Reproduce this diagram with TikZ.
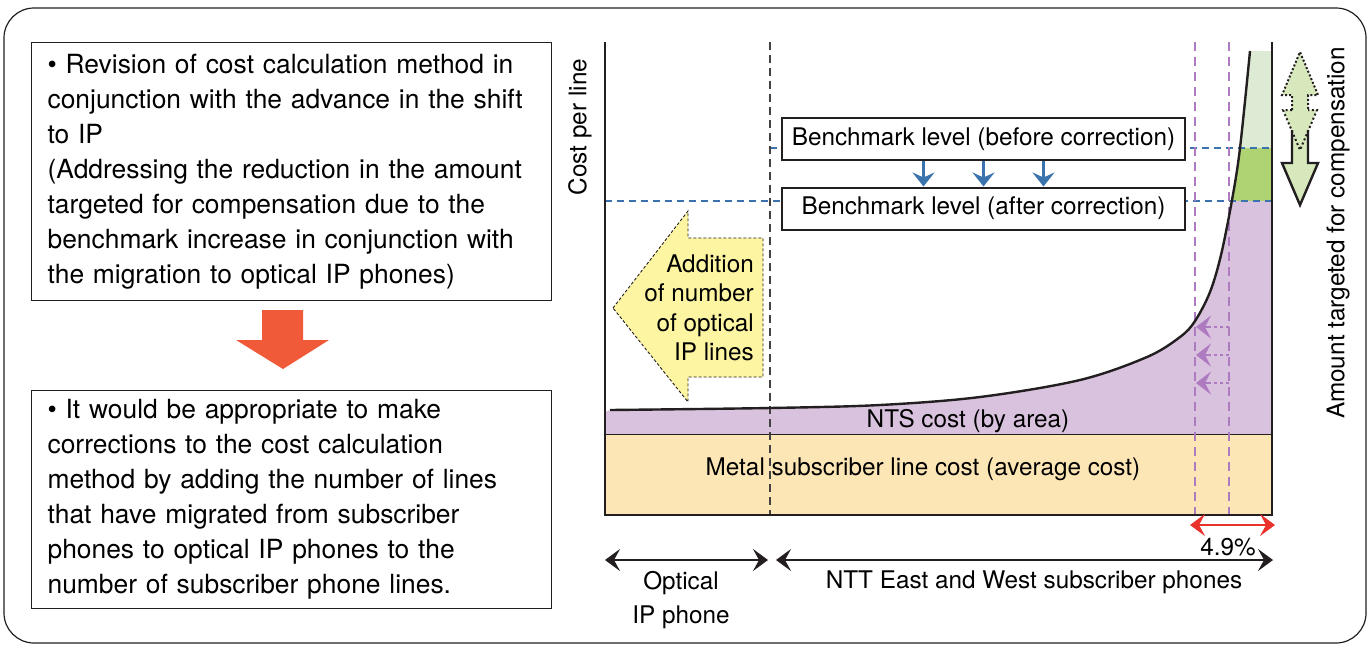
\documentclass[tikz,border=0pt]{standalone}
\usepackage{fontspec}
\setmainfont{TeX Gyre Heros}
\usetikzlibrary{arrows.meta}

\definecolor{ink}{HTML}{231F20}
\definecolor{metalfill}{HTML}{FDE6B6}
\definecolor{ntsfill}{HTML}{D8C2DE}
\definecolor{gapgreen}{HTML}{AFD373}
\definecolor{palegreen}{HTML}{DDEBD4}
\definecolor{arrowgreen}{HTML}{D7E8BC}
\definecolor{lineyellow}{HTML}{FDF5A2}
\definecolor{shiftorange}{HTML}{F15A38}
\definecolor{benchblue}{HTML}{3A73AE}
\definecolor{sharepurple}{HTML}{AE7BC0}
\definecolor{sharered}{HTML}{E8322B}

\tikzset{
  textbox/.style={draw=ink, line width=1.2pt, fill=white, text width=488pt,
    inner xsep=16pt, inner ysep=0pt, minimum width=520pt, align=left,
    anchor=north west, font=\fontsize{26.4}{35}\selectfont},
  benchbox/.style={draw=ink, line width=2pt, fill=white, minimum width=403pt,
    minimum height=42pt, inner sep=0pt, font=\fontsize{24.3}{28}\selectfont},
  chartlabel/.style={inner sep=0pt, font=\fontsize{24.3}{34}\selectfont},
  axisline/.style={draw=ink, line width=2.4pt},
  benchline/.style={draw=benchblue, line width=1.8pt, dash pattern=on 7pt off 5pt},
  shareline/.style={draw=sharepurple, line width=2pt, dash pattern=on 9pt off 6pt},
  splitline/.style={draw=ink!85, line width=1.1pt, dash pattern=on 8pt off 5pt},
  benchstep/.style={draw=benchblue, line width=2.2pt,
    -{Stealth[length=14pt, width=22pt, inset=5pt]}},
  shiftshaft/.style={draw=sharepurple, line width=1.5pt, dash pattern=on 3pt off 3pt},
  shifttip/.style={draw=sharepurple, fill=sharepurple, line width=1.5pt,
    -{Stealth[length=15pt, width=23pt, inset=6pt]}},
  spanarrow/.style={draw=ink, line width=2.2pt,
    {Stealth[length=15pt, width=22pt, inset=6pt]}-{Stealth[length=15pt, width=22pt, inset=6pt]}},
  redspan/.style={draw=sharered, line width=2.4pt,
    {Stealth[length=15pt, width=22pt, inset=6pt]}-{Stealth[length=15pt, width=22pt, inset=6pt]}},
}

\begin{document}
\begin{tikzpicture}[x=1pt, y=-1pt]
\useasboundingbox (0,0) rectangle (1372,646);

% outer frame
\draw[draw=ink, line width=1.2pt, rounded corners=30pt] (4,8) rectangle (1366,643);

% left column: proposal and conclusion
\node[textbox, minimum height=258pt] (revision) at (31,42)
  {• Revision of cost calculation method in\\
   conjunction with the advance in the shift\\
   to IP\\
   (Addressing the reduction in the amount\\
   targeted for compensation due to the\\
   benchmark increase in conjunction with\\
   the migration to optical IP phones)};

\fill[shiftorange] (262,310) -- (303,310) -- (303,340) -- (329,340) -- (283,369)
  -- (236,340) -- (262,340) -- cycle;

\node[textbox, minimum height=218pt] (conclusion) at (31,390)
  {• It would be appropriate to make\\
   corrections to the cost calculation\\
   method by adding the number of lines\\
   that have migrated from subscriber\\
   phones to optical IP phones to the\\
   number of subscriber phone lines.};

% chart: metal line cost band
\fill[metalfill] (605,434) rectangle (1272,515);

% chart: NTS cost area under the cost curve, split by the benchmark levels
\begin{scope}
  \clip (605,412) -- plot[smooth, tension=0.55] coordinates {(610,410) (770,408) (880,405)
    (980,397) (1080,380) (1147,357) (1180,337) (1195,321) (1210,292) (1221,255)
    (1232,200) (1240,148) (1250,51)} -- (1272,51) -- (1272,434) -- (605,434) -- cycle;
  \fill[ntsfill] (600,201) rectangle (1275,436);
  \fill[gapgreen] (600,148) rectangle (1275,201);
  \fill[palegreen] (600,45) rectangle (1275,148);
\end{scope}
\draw[draw=ink, line width=0.8pt] (605,434) -- (1272,434);

% benchmark levels and subscriber shares
\draw[benchline] (770,148) -- (1272,148);
\draw[benchline] (605,201) -- (1272,201);
\draw[splitline] (770,42) -- (770,515);
\draw[shareline] (1195,42) -- (1195,515);
\draw[shareline] (1229,42) -- (1229,515);

% cost curve
\draw[draw=ink, line width=2.4pt] plot[smooth, tension=0.55] coordinates {(610,410) (770,408)
  (880,405) (980,397) (1080,380) (1147,357) (1180,337) (1195,321) (1210,292)
  (1221,255) (1232,200) (1240,148) (1250,51)};

% axes
\draw[axisline] (605,42) -- (605,515) -- (1272,515) -- (1272,42);

% migrated lines moving to the optical side
\foreach \y/\k in {327/1, 355/2, 383/3} {
  \coordinate (m\k s) at (1229,\y);
  \coordinate (m\k h) at (1210,\y);
  \coordinate (m\k e) at (1196,\y);
  \draw[shiftshaft] (m\k s) -- (m\k h);
  \draw[shifttip] (m\k h) -- (m\k e);
}

% benchmark boxes
\node[benchbox] (before) at (983.5,139) {Benchmark level (before correction)};
\node[benchbox] (after) at (983.5,208.5) {Benchmark level (after correction)};
\draw[benchstep] ([xshift=-60pt]before.south) -- ([xshift=-60pt]after.north);
\draw[benchstep] (before.south) -- (after.north);
\draw[benchstep] ([xshift=60pt]before.south) -- ([xshift=60pt]after.north);

% addition of optical IP lines
\fill[lineyellow] (613,308) -- (688,211) -- (688,238) -- (763,238) -- (763,377)
  -- (688,377) -- (688,402) -- cycle;
\draw[draw=ink, line width=0.9pt, dash pattern=on 3pt off 2pt]
  (613,308) -- (688,211) -- (688,238) -- (763,238) -- (763,377)
  -- (688,377) -- (688,402) -- cycle;
\node[chartlabel, align=right, anchor=east, font=\fontsize{24.3}{29.5}\selectfont]
  (addition) at (754,308) {Addition\\of number\\of optical\\IP lines};

% amount targeted for compensation: double arrow
\fill[arrowgreen] (1300,52) -- (1318,95) -- (1308,95) -- (1308,110) -- (1317,110)
  -- (1300,150) -- (1283,110) -- (1292,110) -- (1292,95) -- (1282,95) -- cycle;
\fill[arrowgreen] (1292,125) -- (1308,125) -- (1308,163) -- (1318,163) -- (1300,205)
  -- (1282,163) -- (1292,163) -- cycle;
\draw[draw=ink, line width=2pt, dash pattern=on 2pt off 2pt]
  (1292,110) -- (1292,95) -- (1282,95) -- (1300,52) -- (1318,95) -- (1308,95) -- (1308,110);
\draw[draw=ink, line width=2pt, dash pattern=on 2pt off 2.5pt]
  (1292,110) -- (1283,110) -- (1300,150) -- (1317,110) -- (1308,110);
\draw[draw=ink, line width=2.4pt, line join=miter]
  (1292,130) -- (1292,163) -- (1282,163) -- (1300,205) -- (1318,163) -- (1308,163) -- (1308,130);

% chart labels
\node[chartlabel, rotate=90] (costlabel) at (580,127) {Cost per line};
\node[chartlabel, rotate=90] (amountlabel) at (1338,233) {Amount targeted for compensation};
\node[chartlabel] (ntslabel) at (968,421) {NTS cost (by area)};
\node[chartlabel] (metallabel) at (923,469) {Metal subscriber line cost (average cost)};

% share of migrated lines
\coordinate (ra) at (1190,525); \coordinate (rb) at (1275,525);
\draw[redspan] (ra) -- (rb);
\node[chartlabel] (share) at (1228,547) {4.9\%};

% line categories
\coordinate (oa) at (605,560); \coordinate (ob) at (768,560);
\coordinate (na) at (776,560); \coordinate (nb) at (1273,560);
\draw[spanarrow] (oa) -- (ob);
\draw[spanarrow] (na) -- (nb);
\node[chartlabel, align=center] (optical) at (681,600) {Optical\\IP phone};
\node[chartlabel] (ntt) at (1034,582) {NTT East and West subscriber phones};

\end{tikzpicture}
\end{document}
